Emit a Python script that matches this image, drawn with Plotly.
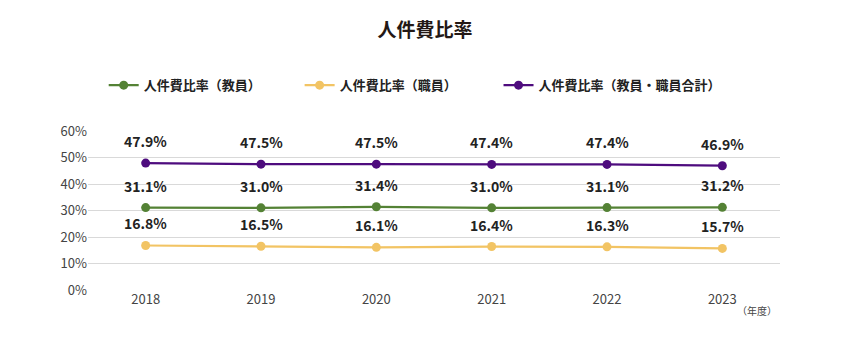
import plotly.graph_objects as go

PCT = chr(37)
years = ["2018", "2019", "2020", "2021", "2022", "2023"]
faculty = [31.1, 31.0, 31.4, 31.0, 31.1, 31.2]
staff = [16.8, 16.5, 16.1, 16.4, 16.3, 15.7]
total = [47.9, 47.5, 47.5, 47.4, 47.4, 46.9]
series_names = ["人件費比率（教員）", "人件費比率（職員）", "人件費比率（教員・職員合計）"]
colors = ["#548235", "#f2c464", "#4e0c7e"]
y_ticks = [0, 10, 20, 30, 40, 50, 60]

FONT = "Noto Sans CJK JP"
legend_ids = ["legend", "legend2", "legend3"]
legend_x = [0.122, 0.3525, 0.5865]

fig = go.Figure()
annotations = []
for name, vals, col, lid in zip(series_names, [faculty, staff, total], colors, legend_ids):
    fig.add_trace(go.Scatter(
        x=years, y=vals, name=name, mode="lines+markers",
        line=dict(color=col, width=2.2),
        marker=dict(color=col, size=9),
        legend=lid,
    ))
    for i, yv in enumerate(vals):
        annotations.append(dict(
            x=i, y=yv, xref="x", yref="y",
            text="<b>" + "{:.1f}".format(yv) + PCT + "</b>",
            showarrow=False, yshift=22, yanchor="middle",
            font=dict(family=FONT, size=14, color="#222222"),
        ))

annotations.append(dict(
    x=len(years) - 1, xref="x", y=0, yref="y", yshift=-20, xshift=13,
    text="（年度）", showarrow=False, xanchor="left", yanchor="middle",
    font=dict(family=FONT, size=10, color="#444444"),
))

legend_common = dict(orientation="h", xref="container", y=0.753, yref="container",
                     xanchor="left", yanchor="middle",
                     font=dict(family=FONT, size=13, color="#222222", weight="bold"),
                     itemwidth=30, bgcolor="rgba(0,0,0,0)")

fig.update_layout(
    width=850, height=345,
    margin=dict(l=88, r=70, t=131, b=55),
    paper_bgcolor="white", plot_bgcolor="white",
    font=dict(family=FONT, color="#333333"),
    title=dict(text="<b>人件費比率</b>", x=0.5, xanchor="center", y=0.912, yanchor="middle",
               font=dict(family=FONT, size=19, color="#231815")),
    legend=dict(x=legend_x[0], **legend_common),
    legend2=dict(x=legend_x[1], **legend_common),
    legend3=dict(x=legend_x[2], **legend_common),
    showlegend=True,
    annotations=annotations,
    xaxis=dict(type="category", range=[-0.5, 5.5], showgrid=False, showline=False,
               ticks="", tickfont=dict(family=FONT, size=13, color="#444444"), fixedrange=True),
    yaxis=dict(range=[0, 60], tickmode="array", tickvals=y_ticks,
               ticktext=[str(v) + PCT for v in y_ticks], showgrid=True,
               gridcolor="#d9d9d9", gridwidth=1, zeroline=False, showline=False,
               tickfont=dict(family=FONT, size=13, color="#444444"), ticks="", ticklen=0),
)
fig.write_html("out.html")
